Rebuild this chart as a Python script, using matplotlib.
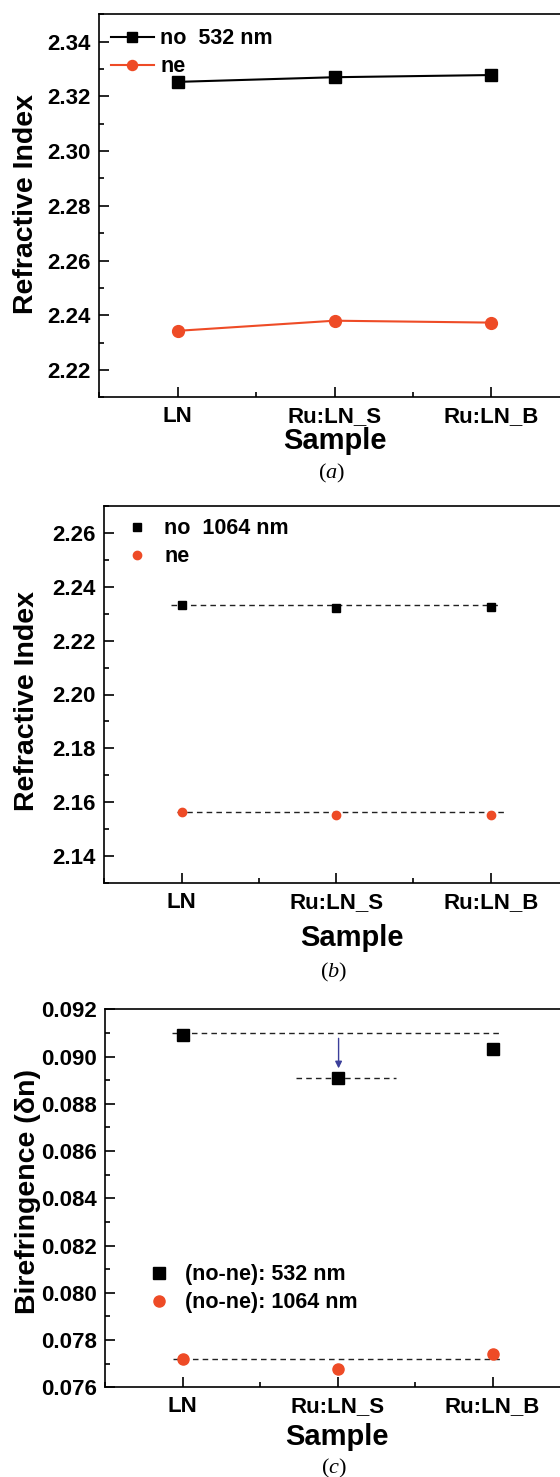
import matplotlib
matplotlib.use("Agg")
import matplotlib.pyplot as plt
from matplotlib.ticker import MultipleLocator, FormatStrFormatter

plt.rcParams['font.family'] = ['Liberation Sans', 'DejaVu Sans']
plt.rcParams['font.weight'] = 'bold'
plt.rcParams['axes.labelweight'] = 'bold'
plt.rcParams['mathtext.fontset'] = 'custom'
plt.rcParams['mathtext.rm'] = 'Liberation Serif:normal'
plt.rcParams['mathtext.it'] = 'Liberation Serif:italic:normal'

# ---- data ----
samples = ["LN", "Ru:LN_S", "Ru:LN_B"]
x_pos = [1, 2, 3]

no_532 = [2.3253, 2.3270, 2.3278]
ne_532 = [2.2343, 2.2380, 2.2373]

no_1064 = [2.2333, 2.2320, 2.2324]
ne_1064 = [2.1563, 2.1552, 2.1552]

biref_532 = [0.09091, 0.08911, 0.09031]
biref_1064 = [0.07720, 0.07679, 0.07741]

RED = '#EE4B26'
W, H = 560, 1477
fig = plt.figure(figsize=(W / 100, H / 100), dpi=100)


def px_axes(left, top, right, bottom):
    return fig.add_axes([left / W, 1 - bottom / H, (right - left) / W, (bottom - top) / H])


def style(ax, ymin, ymax, major, minor, fmt):
    ax.set_xlim(0.5, 3.5)
    ax.set_ylim(ymin, ymax)
    ax.set_xticks(x_pos)
    ax.set_xticklabels(samples)
    ax.xaxis.set_minor_locator(MultipleLocator(0.5))
    ax.yaxis.set_major_locator(MultipleLocator(major))
    ax.yaxis.set_minor_locator(MultipleLocator(minor))
    ax.yaxis.set_major_formatter(FormatStrFormatter(fmt))
    ax.tick_params(which='both', direction='in', top=False, right=False, width=1.2)
    ax.tick_params(which='major', length=7, labelsize=16, pad=6)
    ax.tick_params(which='minor', length=3.5)
    for lab in ax.get_xticklabels() + ax.get_yticklabels():
        lab.set_fontweight('bold')
    for s in ax.spines.values():
        s.set_linewidth(1.2)
    ax.spines['right'].set_visible(False)


def ftext(x, y, s, **kw):
    fig.text(x / W, 1 - y / H, s, **kw)


LEG = dict(frameon=False, borderpad=0, borderaxespad=0, labelspacing=0.32,
           prop={'size': 15.5, 'weight': 'bold'})

# ---- panel (a) ----
ax1 = px_axes(99.3, 14.3, 569.7, 397.3)
ax1.plot(x_pos, no_532, '-s', color='black', lw=1.5, ms=8, label='no  532 nm')
ax1.plot(x_pos, ne_532, '-o', color=RED, lw=1.5, ms=8.5, label='ne')
style(ax1, 2.21, 2.35, 0.02, 0.01, '%.2f')
ax1.legend(loc='upper left', bbox_to_anchor=(0.024, 0.963), handlelength=2.0,
           handletextpad=0.3, markerscale=0.85, **LEG)
ftext(26, 204, 'Refractive Index', rotation=90, ha='center', va='center', fontsize=20.5, fontweight='bold')
ftext(334.5, 440.7, 'Sample', ha='center', va='center', fontsize=21, fontweight='bold')
ftext(332, 473, r'($\mathit{a}$)', ha='center', va='center', fontsize=16,
      family='Liberation Serif', fontweight='normal')

# ---- panel (b) ----
ax2 = px_axes(104.3, 505.7, 568.0, 883.3)
ax2.plot([x_pos[0] - 0.07, x_pos[-1] + 0.055], [no_1064[0], no_1064[0]], color='#222222',
         lw=1.0, dashes=(4, 3))
ax2.plot([x_pos[0] - 0.03, x_pos[-1] + 0.09], [ne_1064[0], ne_1064[0]], color='#222222',
         lw=1.0, dashes=(4, 3))
ax2.plot(x_pos, no_1064, 's', color='black', ms=5.5, label='no  1064 nm', zorder=3)
ax2.plot(x_pos, ne_1064, 'o', color=RED, ms=6, label='ne', zorder=3)
style(ax2, 2.13, 2.27, 0.02, 0.01, '%.2f')
ax2.legend(loc='upper left', bbox_to_anchor=(0.048, 0.967), handlelength=1.0,
           handletextpad=0.75, **LEG)
ftext(27, 701, 'Refractive Index', rotation=90, ha='center', va='center', fontsize=20.5, fontweight='bold')
ftext(352, 938, 'Sample', ha='center', va='center', fontsize=21, fontweight='bold')
ftext(334, 972.7, r'($\mathit{b}$)', ha='center', va='center', fontsize=16,
      family='Liberation Serif', fontweight='normal')

# ---- panel (c) ----
ax3 = px_axes(105.0, 1009.3, 570.0, 1387.3)
ax3.plot([x_pos[0] - 0.07, x_pos[-1] + 0.058], [biref_532[0] + 0.0001, biref_532[0] + 0.0001],
         color='#222222', lw=1.0, dashes=(4, 3))
ax3.plot([x_pos[1] - 0.27, x_pos[1] + 0.38], [biref_532[1], biref_532[1]],
         color='#222222', lw=1.0, dashes=(4, 3))
ax3.plot([x_pos[0] - 0.06, x_pos[-1] + 0.07], [biref_1064[0], biref_1064[0]],
         color='#222222', lw=1.0, dashes=(4, 3))
ax3.plot(x_pos, biref_532, 's', color='black', ms=8, label='(no-ne): 532 nm', zorder=3)
ax3.plot(x_pos, biref_1064, 'o', color=RED, ms=8, label='(no-ne): 1064 nm', zorder=3)
ax3.annotate('', xy=(2.007, 0.08950), xytext=(2.007, 0.09077),
             arrowprops=dict(arrowstyle='-|>', color='#3B3F9A', lw=1.0,
                             mutation_scale=10, shrinkA=0, shrinkB=0))
style(ax3, 0.076, 0.092, 0.002, 0.001, '%.3f')
ax3.legend(loc='upper left', bbox_to_anchor=(0.092, 0.3256), handlelength=1.0,
           handletextpad=0.75, **LEG)
ftext(28, 1192, 'Birefringence (δn)', rotation=90, ha='center', va='center', fontsize=20.5, fontweight='bold')
ftext(337, 1436.7, 'Sample', ha='center', va='center', fontsize=21, fontweight='bold')
ftext(334, 1468, r'($\mathit{c}$)', ha='center', va='center', fontsize=16,
      family='Liberation Serif', fontweight='normal')

fig.savefig('out.png', dpi=100)
